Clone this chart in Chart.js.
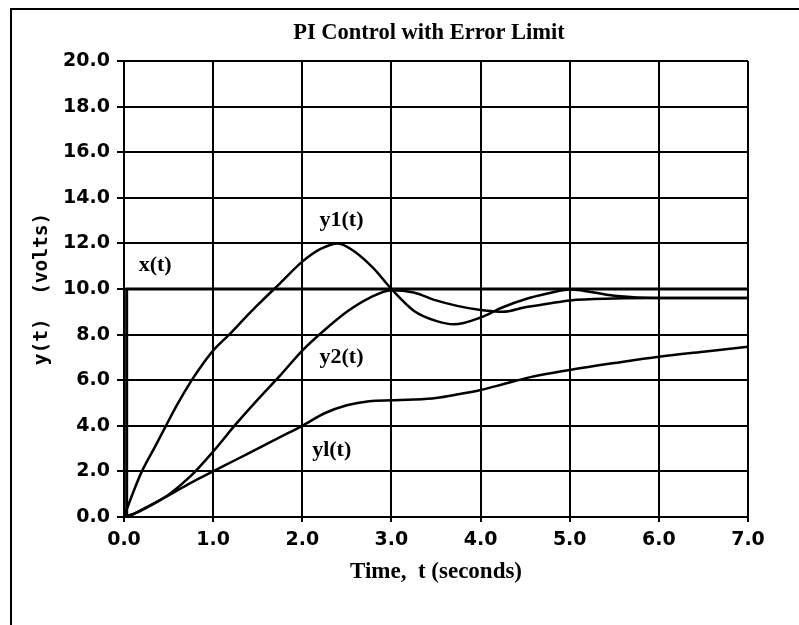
<!DOCTYPE html>
<html>
<head>
<meta charset="utf-8">
<script src="https://cdn.jsdelivr.net/npm/chart.js@4.4.1/dist/chart.umd.min.js"></script>
<style>
  html, body { margin: 0; padding: 0; background: #fff; }
  #wrap { width: 799px; height: 625px; position: relative; }
</style>
</head>
<body>
<div id="wrap"><canvas id="c" width="799" height="625"></canvas></div>
<script>
// ---- data ----
const chartTitle = 'PI Control with Error Limit';
const xAxisTitle = 'Time,  t (seconds)';
const yAxisTitle = 'y(t)  (volts)';

const xTimes  = [0, 0.03, 0.03, 7.0];
const xValues = [0, 0, 10, 10];

const y1Times  = [0, 0.1, 0.2, 0.35, 0.47, 0.6, 0.76, 0.9, 1.0, 1.18, 1.35, 1.5, 1.75, 2.0, 2.2, 2.4, 2.6, 2.8, 3.0, 3.25, 3.5, 3.7, 4.0, 4.25, 4.5, 4.75, 5.0, 5.5, 6.0, 6.5, 7.0];
const y1Values = [0, 1.05, 2.0, 3.1, 4.0, 4.95, 6.0, 6.8, 7.3, 8.0, 8.7, 9.3, 10.25, 11.2, 11.75, 12.0, 11.6, 10.9, 10.0, 9.05, 8.6, 8.45, 8.75, 9.2, 9.55, 9.8, 9.98, 9.7, 9.6, 9.6, 9.6];

const y2Times  = [0, 0.1, 0.25, 0.5, 0.75, 1.0, 1.25, 1.5, 1.75, 2.0, 2.25, 2.5, 2.75, 3.0, 3.25, 3.5, 3.75, 4.0, 4.25, 4.5, 4.75, 5.0, 5.5, 6.0, 6.5, 7.0];
const y2Values = [0, 0.12, 0.4, 0.98, 1.8, 2.87, 4.05, 5.15, 6.2, 7.3, 8.2, 9.0, 9.6, 9.95, 9.85, 9.5, 9.25, 9.08, 9.0, 9.2, 9.35, 9.5, 9.58, 9.6, 9.6, 9.6];

const ylTimes  = [0, 0.1, 0.25, 0.5, 0.75, 1.0, 1.25, 1.5, 1.75, 2.0, 2.25, 2.5, 2.75, 3.0, 3.25, 3.5, 3.75, 4.0, 4.25, 4.5, 4.75, 5.0, 5.5, 6.0, 6.5, 7.0];
const ylValues = [0, 0.12, 0.42, 0.95, 1.5, 2.0, 2.5, 3.0, 3.5, 4.0, 4.55, 4.9, 5.08, 5.12, 5.15, 5.22, 5.38, 5.57, 5.82, 6.08, 6.28, 6.45, 6.75, 7.03, 7.25, 7.47];

const curveLabelTexts = ['x(t)', 'y1(t)', 'y2(t)', 'yl(t)'];
const curveLabelT     = [0.35, 2.44, 2.44, 2.33];
const curveLabelV     = [11.05, 13.0, 7.0, 2.94];

const xTickMin = 0, xTickMax = 7, xTickStep = 1;
const yTickMin = 0, yTickMax = 20, yTickStep = 2;

// ---- build ----
const toXY = (ts, vs) => ts.map((t, i) => ({ x: t, y: vs[i] }));

const decoPlugin = {
  id: 'deco',
  beforeDraw(chart) {
    const ctx = chart.ctx;
    ctx.save();
    ctx.fillStyle = '#fff';
    ctx.fillRect(0, 0, chart.width, chart.height);
    ctx.strokeStyle = '#000';
    ctx.lineWidth = 2;
    ctx.beginPath();
    ctx.moveTo(11, chart.height);
    ctx.lineTo(11, 9);
    ctx.lineTo(chart.width, 9);
    ctx.stroke();
    ctx.fillStyle = '#000';
    ctx.font = 'bold 22.5px "Liberation Serif", serif';
    ctx.textAlign = 'center';
    ctx.textBaseline = 'middle';
    ctx.fillText(chartTitle, 429, 33);
    ctx.restore();
  },
  afterDatasetsDraw(chart) {
    const ctx = chart.ctx;
    const xs = chart.scales.x, ys = chart.scales.y;
    ctx.save();
    ctx.fillStyle = '#000';
    ctx.font = 'bold 22px "Liberation Serif", serif';
    ctx.textAlign = 'center';
    ctx.textBaseline = 'middle';
    curveLabelTexts.forEach((txt, i) => {
      ctx.fillText(txt, xs.getPixelForValue(curveLabelT[i]), ys.getPixelForValue(curveLabelV[i]));
    });
    ctx.restore();
  }
};

const lineStyle = { borderColor: '#000', backgroundColor: '#000', pointRadius: 0, fill: false };

new Chart(document.getElementById('c'), {
  type: 'line',
  data: {
    datasets: [
      Object.assign({ label: 'x(t)', data: toXY(xTimes, xValues), borderWidth: 3, tension: 0 }, lineStyle),
      Object.assign({ label: 'y1(t)', data: toXY(y1Times, y1Values), borderWidth: 2.5, cubicInterpolationMode: 'monotone' }, lineStyle),
      Object.assign({ label: 'y2(t)', data: toXY(y2Times, y2Values), borderWidth: 2.5, cubicInterpolationMode: 'monotone' }, lineStyle),
      Object.assign({ label: 'yl(t)', data: toXY(ylTimes, ylValues), borderWidth: 2.5, cubicInterpolationMode: 'monotone' }, lineStyle)
    ]
  },
  options: {
    responsive: false,
    animation: false,
    layout: { padding: { top: 61, left: 20, right: 51, bottom: 0 } },
    plugins: { legend: { display: false }, title: { display: false }, tooltip: { enabled: false } },
    scales: {
      x: {
        type: 'linear', min: xTickMin, max: xTickMax,
        afterFit(s) { s.height = 108; },
        ticks: {
          stepSize: xTickStep, color: '#000', padding: 7,
          font: { family: '"DejaVu Sans", sans-serif', size: 19, weight: 'bold' },
          callback: v => Number(v).toFixed(1), maxRotation: 0
        },
        grid: { color: '#000', lineWidth: 2, tickLength: 5 },
        border: { color: '#000', width: 2 },
        title: {
          display: true, text: xAxisTitle, color: '#000',
          font: { family: '"Liberation Serif", serif', size: 23, weight: 'bold' },
          padding: { top: 0, bottom: 39 }
        }
      },
      y: {
        type: 'linear', min: yTickMin, max: yTickMax,
        afterFit(s) { s.width = 104; },
        ticks: {
          stepSize: yTickStep, color: '#000', padding: 7,
          font: { family: '"DejaVu Sans", sans-serif', size: 19, weight: 'bold' },
          callback: v => Number(v).toFixed(1)
        },
        grid: { color: '#000', lineWidth: 2, tickLength: 7 },
        border: { color: '#000', width: 2 },
        title: {
          display: true, text: yAxisTitle, color: '#000',
          font: { family: '"DejaVu Sans Mono", monospace', size: 19.5, weight: 'bold' },
          padding: { top: 10, bottom: 0 }
        }
      }
    }
  },
  plugins: [decoPlugin]
});
</script>
</body>
</html>
